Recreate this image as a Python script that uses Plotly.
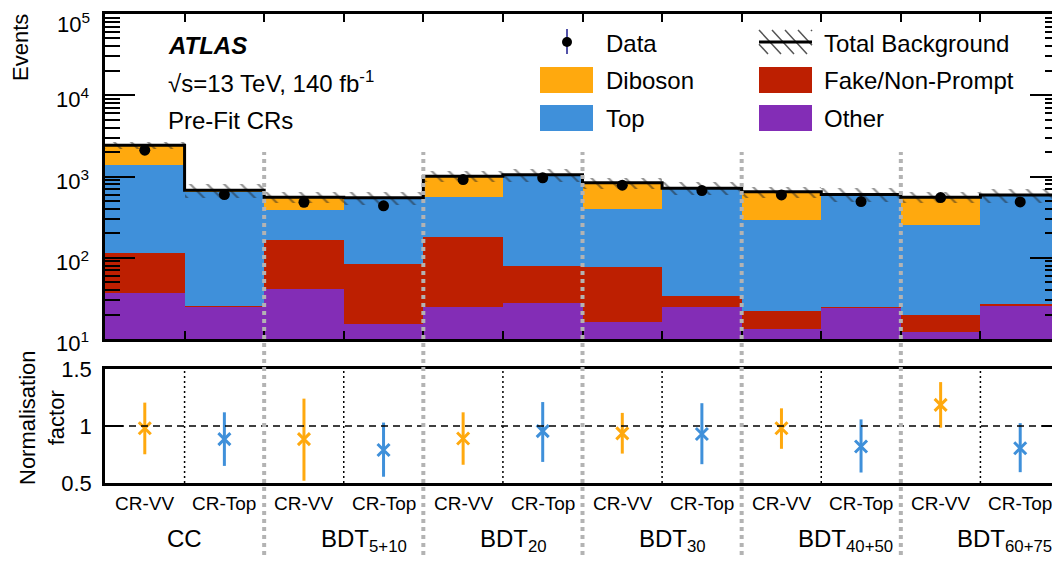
import numpy as np
import plotly.graph_objects as go

# ---------------- data ----------------
regions = ["CC", "BDT<sub>5+10</sub>", "BDT<sub>20</sub>", "BDT<sub>30</sub>",
           "BDT<sub>40+50</sub>", "BDT<sub>60+75</sub>"]
cr_labels = ["CR-VV", "CR-Top"] * 6

other = [37, 25, 41, 15, 25, 28, 16, 25, 13, 24, 12, 26]
fake = [77, 0.5, 126, 69, 153, 52, 60, 9, 9, 0.5, 7.5, 0.5]
top = [1266, 637, 217, 450, 388, 950, 327, 669, 270, 563.5, 230.5, 551.5]
diboson = [1050, 15, 171, 12, 442, 20, 433, 15, 355, 12, 305, 12]
data = [2110, 600, 482, 435, 918, 964, 781, 672, 594, 491, 550, 487]
bkg_rel_unc = [0.10, 0.20, 0.15, 0.18, 0.15, 0.18, 0.15, 0.18, 0.15, 0.20, 0.15, 0.20]

norm_vv = [0.98, 0.885, 0.89, 0.935, 0.98, 1.185]
norm_vv_hi = [1.205, 1.24, 1.12, 1.115, 1.155, 1.385]
norm_vv_lo = [0.752, 0.52, 0.66, 0.758, 0.80, 0.985]
norm_top = [0.885, 0.79, 0.955, 0.93, 0.82, 0.805]
norm_top_hi = [1.12, 1.03, 1.21, 1.20, 1.058, 1.025]
norm_top_lo = [0.65, 0.555, 0.685, 0.665, 0.592, 0.595]

major = [10, 100, 1000, 1e4, 1e5]
major_txt = ["10<sup>1</sup>", "10<sup>2</sup>", "10<sup>3</sup>", "10<sup>4</sup>", "10<sup>5</sup>"]

# ---------------- styling ----------------
C_DIB = "#ffa90e"
C_FAKE = "#bd1f01"
C_TOP = "#3f90da"
C_OTHER = "#832db6"
FONT = "Liberation Sans, Arial, Helvetica, sans-serif"

# the page body adds an 8px offset; work in window coordinates
OFF = 8
W, H = 1060 - OFF, 567 - OFF
L, R, T, B = 105 - OFF, 0, 14 - OFF, 84
PW, PH = W - L - R, H - T - B


def px(x):
    return (x - 105) / PW


def py(y):
    return (483 - y) / PH


nb = len(data)
centers = np.arange(nb) + 0.5
edges = np.arange(nb + 1)

other_a = np.array(other, float)
fake_a = np.array(fake, float)
top_a = np.array(top, float)
dib_a = np.array(diboson, float)
total = other_a + fake_a + top_a + dib_a
unc = np.array(bkg_rel_unc) * total

fig = go.Figure()

# stacked histograms (explicit cumulative bases, overlay)
FLOOR = 0.1
base = np.full(nb, FLOOR)
for vals, col in [(other_a, C_OTHER), (fake_a, C_FAKE), (top_a, C_TOP), (dib_a, C_DIB)]:
    fig.add_trace(go.Bar(x=centers, y=vals, base=base, width=1,
                         marker=dict(color=col, line=dict(width=0)),
                         showlegend=False, xaxis="x", yaxis="y"))
    base = base + vals

# uncertainty band (hatched)
fig.add_trace(go.Bar(x=centers, y=2 * unc, base=total - unc, width=1,
                     marker=dict(color="rgba(0,0,0,0)", line=dict(width=0),
                                 pattern=dict(shape="\\", fgcolor="#222222",
                                              bgcolor="rgba(0,0,0,0)", size=12,
                                              solidity=0.18, fillmode="overlay")),
                     showlegend=False, xaxis="x", yaxis="y"))

# total background step line
fig.add_trace(go.Scatter(x=edges, y=np.append(total, total[-1]), mode="lines",
                         line=dict(color="black", width=3, shape="hv"),
                         showlegend=False, xaxis="x", yaxis="y"))

# data
fig.add_trace(go.Scatter(x=centers, y=data, mode="markers",
                         marker=dict(color="black", size=11),
                         error_y=dict(type="data", array=np.sqrt(data), color="#1a1a8c",
                                      thickness=1.5, width=0),
                         showlegend=False, xaxis="x", yaxis="y"))

# normalisation factors
vv_x = centers[0::2]
top_x = centers[1::2]
for xs, c, hi, lo, col in [(vv_x, norm_vv, norm_vv_hi, norm_vv_lo, C_DIB),
                           (top_x, norm_top, norm_top_hi, norm_top_lo, C_TOP)]:
    c = np.array(c)
    fig.add_trace(go.Scatter(x=xs, y=c, mode="markers",
                             marker=dict(symbol="x-thin", size=12, color=col,
                                         line=dict(color=col, width=3)),
                             error_y=dict(type="data", symmetric=False,
                                          array=np.array(hi) - c, arrayminus=c - np.array(lo),
                                          color=col, thickness=3, width=0),
                             showlegend=False, xaxis="x2", yaxis="y2"))

shapes = []
# horizontal dashed line at 1
shapes.append(dict(type="line", xref="x2", yref="y2", x0=0, x1=nb, y0=1, y1=1,
                   line=dict(color="black", width=1.5, dash="7px,5px")))
# black dotted lines inside groups (bottom panel)
for e in edges[1:-1:2]:
    shapes.append(dict(type="line", xref="x2", yref="y2", x0=e, x1=e, y0=0.5, y1=1.5,
                       line=dict(color="black", width=1.5, dash="2px,3px")))
# grey separators between regions
for e in edges[2:-1:2]:
    xp = e / nb
    shapes.append(dict(type="line", xref="paper", yref="paper", x0=xp, x1=xp,
                       y0=py(555), y1=py(152),
                       line=dict(color="#b3b3b3", width=4, dash="dot")))


# legend (manual, ROOT style)
def rect(x0, y0, x1, y1, col):
    return dict(type="rect", xref="paper", yref="paper", x0=px(x0), x1=px(x1),
                y0=py(y1), y1=py(y0), fillcolor=col, line=dict(width=0))


shapes.append(rect(540, 67, 593, 93, C_DIB))
shapes.append(rect(540, 105, 593, 131, C_TOP))
shapes.append(rect(759, 67, 812, 93, C_FAKE))
shapes.append(rect(759, 105, 812, 131, C_OTHER))
# data symbol
shapes.append(dict(type="line", xref="paper", yref="paper", x0=px(567), x1=px(567),
                   y0=py(54), y1=py(29), line=dict(color="#1a1a8c", width=1.5)))
shapes.append(dict(type="circle", xref="paper", yref="paper", x0=px(562), x1=px(572),
                   y0=py(47), y1=py(37), fillcolor="black", line=dict(width=0)))
# total background symbol (hatch + line)
path = ""
for k in range(-2, 5):
    xa, ya = 759 + 13 * k, 30
    xb, yb = xa + 22, 54
    if xa < 759:
        ya = ya + (759 - xa) * (24 / 22)
        xa = 759
    if xb > 812:
        yb = yb - (xb - 812) * (24 / 22)
        xb = 812
    if xb > xa:
        path += f"M{px(xa)},{py(ya)} L{px(xb)},{py(yb)} "
shapes.append(dict(type="path", xref="paper", yref="paper", path=path,
                   line=dict(color="#555555", width=1.5)))
shapes.append(dict(type="line", xref="paper", yref="paper", x0=px(759), x1=px(812),
                   y0=py(42), y1=py(42), line=dict(color="black", width=3)))

annotations = []


def text(x, y, s, size=24, xanchor="left", yanchor="middle", **kw):
    annotations.append(dict(x=px(x), y=py(y), xref="paper", yref="paper", text=s,
                            showarrow=False, xanchor=xanchor, yanchor=yanchor,
                            font=dict(family=FONT, size=size, color="black"), **kw))


text(604, 43, "Data")
text(604, 80, "Diboson")
text(604, 118, "Top")
text(822, 43, "Total Background")
text(822, 80, "Fake/Non-Prompt")
text(822, 118, "Other")

text(166, 45, "<b><i>ATLAS</i></b>")
text(166, 82, "√s=13 TeV, 140 fb<sup>-1</sup>")
text(166, 120, "Pre-Fit CRs")

text(20, 48, "Events", size=22, xanchor="center", textangle=-90, borderpad=0)
text(42, 418, "Normalisation<br>factor", size=22, xanchor="center", textangle=-90,
     borderpad=0)

# y tick labels of the log panel (ROOT places them slightly below the tick)
for v, lab in zip(major, major_txt):
    if v == major[-1]:
        annotations.append(dict(x=px(91), y=py(OFF), xref="paper", yref="paper", text=lab,
                                showarrow=False, xanchor="right", yanchor="top",
                                borderpad=0, font=dict(family=FONT, size=22, color="black")))
    else:
        annotations.append(dict(x=px(91), y=np.log10(v), xref="paper", yref="y", text=lab,
                                showarrow=False, xanchor="right", yanchor="middle",
                                yshift=-3, font=dict(family=FONT, size=22, color="black")))

# x-axis labels
for xc, lab in zip(centers, cr_labels):
    annotations.append(dict(x=xc, y=py(504), xref="x2", yref="paper", text=lab,
                            showarrow=False, xanchor="center", yanchor="middle",
                            font=dict(family=FONT, size=19, color="black")))
for g, lab in enumerate(regions):
    xc = edges[2 * g + 1]
    if "<sub>" in lab:
        annotations.append(dict(x=xc, y=py(523), xref="x2", yref="paper", text=lab,
                                showarrow=False, xanchor="left", yanchor="top", xshift=-25,
                                font=dict(family=FONT, size=24, color="black")))
    else:
        annotations.append(dict(x=xc, y=py(523), xref="x2", yref="paper", text=lab,
                                showarrow=False, xanchor="center", yanchor="top",
                                font=dict(family=FONT, size=24, color="black")))

minor_vals = [m * 10 ** d for d in range(1, 5) for m in range(2, 10)]

fig.update_layout(
    width=W, height=H,
    margin=dict(l=L, r=R, t=T, b=B, autoexpand=False),
    paper_bgcolor="white", plot_bgcolor="white",
    barmode="overlay", bargap=0,
    font=dict(family=FONT, size=22, color="black"),
    showlegend=False,
    xaxis=dict(domain=[0, 1], anchor="y", range=[0, nb], showticklabels=False,
               tickvals=list(edges[1:-1]), ticks="inside", ticklen=8, tickwidth=1.5,
               tickcolor="black", showline=True, linecolor="black", linewidth=2.5,
               mirror="ticks", showgrid=False, zeroline=False, automargin=False),
    yaxis=dict(domain=[py(339), py(14)], anchor="x", type="log", range=[1 - 1e-4, 5 + 1e-4],
               tickvals=major, showticklabels=False, ticks="inside", ticklen=30,
               tickwidth=2, tickcolor="black", showline=True, linecolor="black",
               linewidth=2.5, mirror="ticks", showgrid=False, zeroline=False,
               automargin=False,
               minor=dict(tickvals=minor_vals, ticks="inside", ticklen=15, tickwidth=1.5,
                          tickcolor="black", showgrid=False)),
    xaxis2=dict(domain=[0, 1], anchor="y2", range=[0, nb], showticklabels=False,
                ticks="", showline=True, linecolor="black", linewidth=2.5, mirror=True,
                showgrid=False, zeroline=False, automargin=False),
    yaxis2=dict(domain=[0, py(369)], anchor="x2", range=[0.5, 1.5],
                tickvals=[0.5, 1, 1.5], ticktext=["0.5", "1", "1.5"], ticks="inside",
                ticklen=18, tickwidth=2, tickcolor="black", showline=True,
                linecolor="black", linewidth=2.5, mirror="ticks", showgrid=False,
                zeroline=False, ticklabelstandoff=6, tickfont=dict(size=22),
                automargin=False, ticklabeloverflow="allow"),
    shapes=shapes,
    annotations=annotations,
)

fig.write_html("out.html")
